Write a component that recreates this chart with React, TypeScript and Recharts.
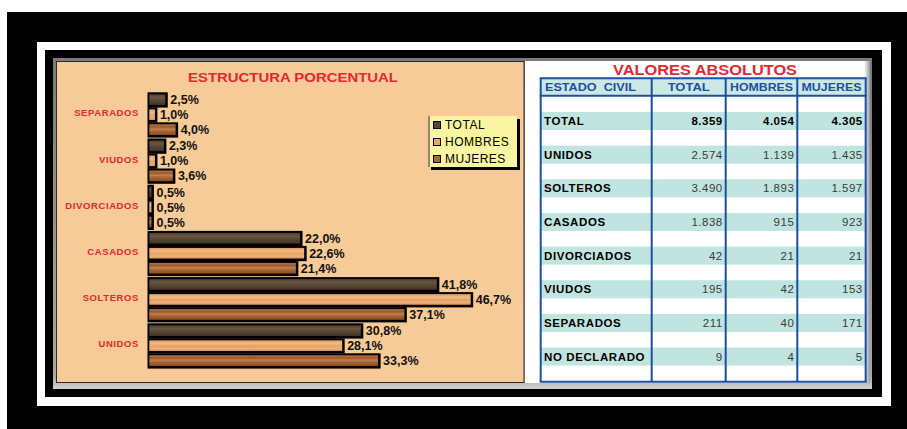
import { Bar, BarChart, LabelList, Legend, XAxis, YAxis } from 'recharts'

const categories = ['SEPARADOS', 'VIUDOS', 'DIVORCIADOS', 'CASADOS', 'SOLTEROS', 'UNIDOS']
const totalPct = [2.5, 2.3, 0.5, 22.0, 41.8, 30.8]
const hombresPct = [1.0, 1.0, 0.5, 22.6, 46.7, 28.1]
const mujeresPct = [4.0, 3.6, 0.5, 21.4, 37.1, 33.3]

const headers = ['ESTADO  CIVIL', 'TOTAL', 'HOMBRES', 'MUJERES']
const estados = ['TOTAL', 'UNIDOS', 'SOLTEROS', 'CASADOS', 'DIVORCIADOS', 'VIUDOS', 'SEPARADOS', 'NO DECLARADO']
const absTotal = [8359, 2574, 3490, 1838, 42, 195, 211, 9]
const absHombres = [4054, 1139, 1893, 915, 21, 42, 40, 4]
const absMujeres = [4305, 1435, 1597, 923, 21, 153, 171, 5]

const data = categories.map((name, i) => ({
  name,
  total: totalPct[i],
  hombres: hombresPct[i],
  mujeres: mujeresPct[i],
}))

const FONT = "Arial, 'Liberation Sans', sans-serif"
const RED = '#e8262e'
const BLUE = '#1c4fa0'

const fmtPct = (v: any) => `${Number(v).toFixed(1).replace('.', ',')}%`
const fmtNum = (n: number) => String(n).replace(/\B(?=(\d{3})+(?!\d))/g, '.')

// black border + drop shadow, wood fill inside
const WoodBar = (props: any) => {
  const { x, y, width, height, fill } = props
  if (width == null || height == null) return null
  return (
    <g>
      <rect x={x - 0.5} y={y} width={width + 3} height={height + 0.3} fill="#000" />
      <rect x={x + 1.3} y={y + 2} width={Math.max(width - 1.3, 1.2)} height={height - 4.3} fill={fill} />
    </g>
  )
}

const CatTick = ({ x, y, payload }: any) => (
  <text x={x - 1} y={y} dy={2} textAnchor="end" fill={RED} fontSize={9.5} fontWeight="bold" letterSpacing={0.6} fontFamily={FONT}>
    {payload.value}
  </text>
)

const legendItems = [
  { label: 'TOTAL', color: '#5a4836' },
  { label: 'HOMBRES', color: '#eaa468' },
  { label: 'MUJERES', color: '#a8663a' },
]

const LegendBox = () => (
  <div style={{ position: 'relative', width: 89, height: 51, fontFamily: FONT }}>
    <div style={{ position: 'absolute', left: 3, top: 3, width: 89, height: 51, background: '#000' }} />
    <div
      style={{
        position: 'absolute', left: 0, top: 0, width: 89, height: 51,
        background: '#f9f4a0', borderLeft: '2px solid #8c8a6a', boxSizing: 'border-box',
      }}
    />
    {legendItems.map((it, i) => (
      <div key={it.label} style={{ position: 'absolute', left: 5, top: 3 + i * 17.2, height: 12, display: 'flex', alignItems: 'center' }}>
        <div style={{ width: 6, height: 6, border: '1.5px solid #000', background: it.color }} />
        <span style={{ marginLeft: 4, fontSize: 12, letterSpacing: 0.5, color: '#000', lineHeight: '12px' }}>{it.label}</span>
      </div>
    ))}
  </div>
)

const Frame = () => {
  const colX = [540.7, 651.7, 725.7, 797.3, 865.7]
  const stripeTop = (i: number) => 112 + i * 33.65
  return (
    <svg width={907} height={429} style={{ position: 'absolute', left: 0, top: 0 }}>
      <defs>
        <linearGradient id="bevel" x1="0" y1="0" x2="0" y2="1">
          <stop offset="0" stopColor="#7a7a7a" />
          <stop offset="0.96" stopColor="#a8a8a8" />
          <stop offset="1" stopColor="#d0d0d0" />
        </linearGradient>
        <linearGradient id="rightShade" x1="0" y1="0" x2="1" y2="0">
          <stop offset="0" stopColor="#ffffff" />
          <stop offset="1" stopColor="#9a9a9a" />
        </linearGradient>
      </defs>
      <rect x={0} y={0} width={907} height={429} fill="#fff" />
      <rect x={7} y={12} width={900} height={417} fill="#000" />
      <rect x={37} y={42} width={854} height={364} fill="#fff" />
      <rect x={45} y={50} width={837} height={347} fill="#000" />
      <rect x={53} y={58} width={819} height={331} fill="url(#bevel)" />
      <rect x={525} y={61} width={345} height={322} fill="#fff" />
      <rect x={864} y={61} width={6} height={322} fill="url(#rightShade)" />
      <rect x={56.5} y={61.5} width={467.5} height={321} fill="#f7cb97" stroke="#2a2a2a" strokeWidth={1} />

      <text x={293} y={81.7} textAnchor="middle" fill={RED} fontSize={13} fontWeight="bold" fontFamily={FONT} textLength={210} lengthAdjust="spacingAndGlyphs">
        ESTRUCTURA PORCENTUAL
      </text>
      <text x={705} y={75} textAnchor="middle" fill={RED} fontSize={14.5} fontWeight="bold" fontFamily={FONT} textLength={184} lengthAdjust="spacingAndGlyphs">
        VALORES ABSOLUTOS
      </text>

      {/* table */}
      <rect x={colX[0]} y={78.3} width={colX[4] - colX[0]} height={17.4} fill="#cbe8e4" />
      {estados.map((_, i) => (
        <rect key={i} x={colX[0]} y={stripeTop(i)} width={colX[4] - colX[0]} height={18} fill="#c0e4df" />
      ))}
      {colX.map((cx, i) => (
        <line key={i} x1={cx} y1={78.3} x2={cx} y2={381.7} stroke={BLUE} strokeWidth={2} />
      ))}
      <line x1={colX[0] - 1} y1={78.3} x2={colX[4] + 1} y2={78.3} stroke={BLUE} strokeWidth={2} />
      <line x1={colX[0] - 1} y1={95.7} x2={colX[4] + 1} y2={95.7} stroke={BLUE} strokeWidth={2} />
      <line x1={colX[0] - 1} y1={381.7} x2={colX[4] + 1} y2={381.7} stroke={BLUE} strokeWidth={2} />

      <text x={545} y={91.2} fill={BLUE} fontSize={10.5} fontWeight="bold" fontFamily={FONT} textLength={91} lengthAdjust="spacingAndGlyphs" xmlSpace="preserve">
        {headers[0]}
      </text>
      {[1, 2, 3].map((c) => {
        const widths = [0, 42, 63, 60]
        return (
          <text key={c} x={(colX[c] + colX[c + 1]) / 2} y={91.2} textAnchor="middle" fill={BLUE} fontSize={10.5} fontWeight="bold" fontFamily={FONT} textLength={widths[c]} lengthAdjust="spacingAndGlyphs">
            {headers[c]}
          </text>
        )
      })}

      {estados.map((name, i) => {
        const by = stripeTop(i) + 13
        const bold = i === 0
        const vals = [absTotal[i], absHombres[i], absMujeres[i]]
        return (
          <g key={name} fontFamily={FONT} fontSize={11.5}>
            <text x={544} y={by} fill="#000" fontWeight="bold" letterSpacing={0.6}>
              {name}
            </text>
            {vals.map((v, k) => (
              <text key={k} x={colX[k + 2] - 3} y={by} textAnchor="end" fill={bold ? '#000' : '#3a3a3a'} fontWeight={bold ? 'bold' : 'normal'} letterSpacing={0.5}>
                {fmtNum(v)}
              </text>
            ))}
          </g>
        )
      })}
    </svg>
  )
}

const App = () => {
  return (
    <div style={{ position: 'absolute', left: 0, top: 0, width: 907, height: 429, fontFamily: FONT }}>
      <Frame />
      <div style={{ position: 'absolute', left: 56, top: 61 }}>
        <BarChart
          width={468}
          height={322}
          data={data}
          layout="vertical"
          barCategoryGap={1}
          barGap={0}
          margin={{ top: 30.3, right: 30.5, bottom: 14.5, left: 0 }}
        >
          <defs>
            <linearGradient id="woodTotal" x1="0" y1="0" x2="0" y2="1">
              <stop offset="0" stopColor="#4e3e2e" />
              <stop offset="0.3" stopColor="#6a5642" />
              <stop offset="0.55" stopColor="#5a4834" />
              <stop offset="0.8" stopColor="#4c3c2c" />
              <stop offset="1" stopColor="#3e3022" />
            </linearGradient>
            <linearGradient id="woodHombres" x1="0" y1="0" x2="0" y2="1">
              <stop offset="0" stopColor="#e09a5e" />
              <stop offset="0.3" stopColor="#f2bc86" />
              <stop offset="0.55" stopColor="#e6a064" />
              <stop offset="0.8" stopColor="#eeb27a" />
              <stop offset="1" stopColor="#d28a50" />
            </linearGradient>
            <linearGradient id="woodMujeres" x1="0" y1="0" x2="0" y2="1">
              <stop offset="0" stopColor="#b87444" />
              <stop offset="0.25" stopColor="#9a5a2e" />
              <stop offset="0.45" stopColor="#c4804e" />
              <stop offset="0.7" stopColor="#a0602e" />
              <stop offset="1" stopColor="#8a4c22" />
            </linearGradient>
          </defs>
          <XAxis type="number" domain={[0, 50]} hide />
          <YAxis type="category" dataKey="name" width={92} axisLine={false} tickLine={false} tick={<CatTick />} interval={0} />
          <Legend
            layout="vertical"
            align="center"
            verticalAlign="middle"
            content={<LegendBox />}
            wrapperStyle={{ position: 'absolute', left: 372, top: 55, width: 92, height: 54 }}
          />
          <Bar dataKey="total" name="TOTAL" fill="url(#woodTotal)" shape={<WoodBar />} isAnimationActive={false}>
            <LabelList dataKey="total" position="right" offset={5} formatter={fmtPct} fill="#111" fontSize={12.5} fontWeight="bold" fontFamily={FONT} />
          </Bar>
          <Bar dataKey="hombres" name="HOMBRES" fill="url(#woodHombres)" shape={<WoodBar />} isAnimationActive={false}>
            <LabelList dataKey="hombres" position="right" offset={5} formatter={fmtPct} fill="#111" fontSize={12.5} fontWeight="bold" fontFamily={FONT} />
          </Bar>
          <Bar dataKey="mujeres" name="MUJERES" fill="url(#woodMujeres)" shape={<WoodBar />} isAnimationActive={false}>
            <LabelList dataKey="mujeres" position="right" offset={5} formatter={fmtPct} fill="#111" fontSize={12.5} fontWeight="bold" fontFamily={FONT} />
          </Bar>
        </BarChart>
      </div>
    </div>
  )
}

export default App
